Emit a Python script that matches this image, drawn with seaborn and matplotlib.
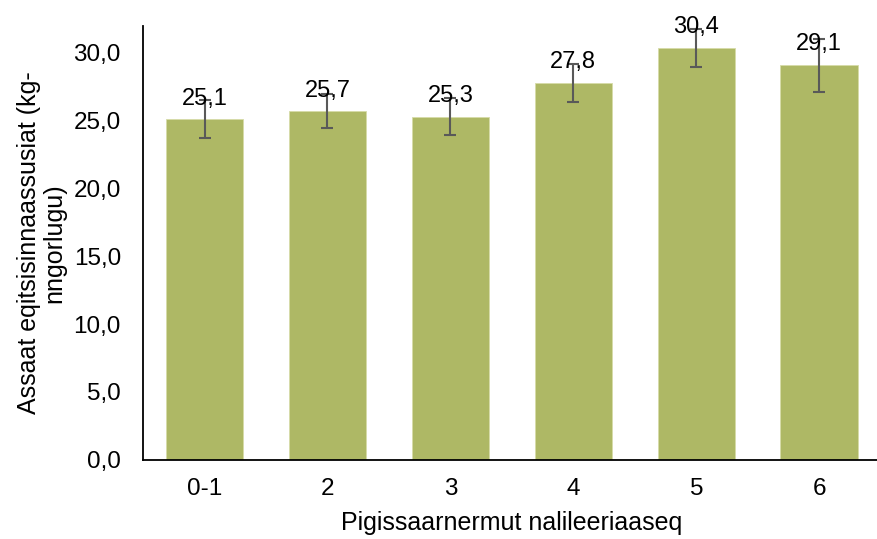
import matplotlib.pyplot as plt
import matplotlib.ticker as mticker
import seaborn as sns
import pandas as pd

categories = ['0-1', '2', '3', '4', '5', '6']
values = [25.1, 25.7, 25.3, 27.8, 30.4, 29.1]
errors = [1.4, 1.25, 1.35, 1.4, 1.4, 1.95]

df = pd.DataFrame({'cat': categories, 'val': values, 'err': errors})

sns.set_style('white')
plt.rcParams['font.family'] = ['Liberation Sans', 'DejaVu Sans']
plt.rcParams['text.color'] = 'black'
plt.rcParams['axes.labelcolor'] = 'black'
plt.rcParams['xtick.color'] = 'black'
plt.rcParams['ytick.color'] = 'black'

fig = plt.figure(figsize=(8.78, 5.39), dpi=100)
ax = fig.add_axes([0.163, 0.147, 0.84, 0.805])

sns.barplot(data=df, x='cat', y='val', color='#AEB865', saturation=1,
            width=0.63, edgecolor='#D6DBA8', linewidth=0.6, ax=ax)
ax.errorbar(range(len(categories)), values, yerr=errors, fmt='none',
            ecolor='#595959', elinewidth=1.5, capsize=4.5, capthick=1.5)

for i, v in enumerate(values):
    ax.annotate(f'{v:.1f}'.replace('.', ','), (i, v), xytext=(0, 7),
                textcoords='offset points', ha='center', va='bottom',
                fontsize=17, color='black')

ax.set_ylim(0, 32)
ax.set_xlim(-0.5, 5.5)
ax.yaxis.set_major_locator(mticker.MultipleLocator(5))
ax.yaxis.set_major_formatter(mticker.FuncFormatter(lambda y, _: f'{y:.1f}'.replace('.', ',')))
ax.tick_params(axis='both', labelsize=17.5, length=0)
ax.tick_params(axis='y', pad=16)
ax.tick_params(axis='x', pad=13)
ax.set_xlabel('Pigissaarnermut nalileeriaaseq', fontsize=18, labelpad=8)
ax.set_ylabel('Assaat eqitsisinnaassusiat (kg-\nnngorlugu)', fontsize=18,
              labelpad=5, linespacing=1.1)

for s in ['top', 'right']:
    ax.spines[s].set_visible(False)
for s in ['left', 'bottom']:
    ax.spines[s].set_color('black')
    ax.spines[s].set_linewidth(1.3)

fig.savefig('out.png', dpi=100)
